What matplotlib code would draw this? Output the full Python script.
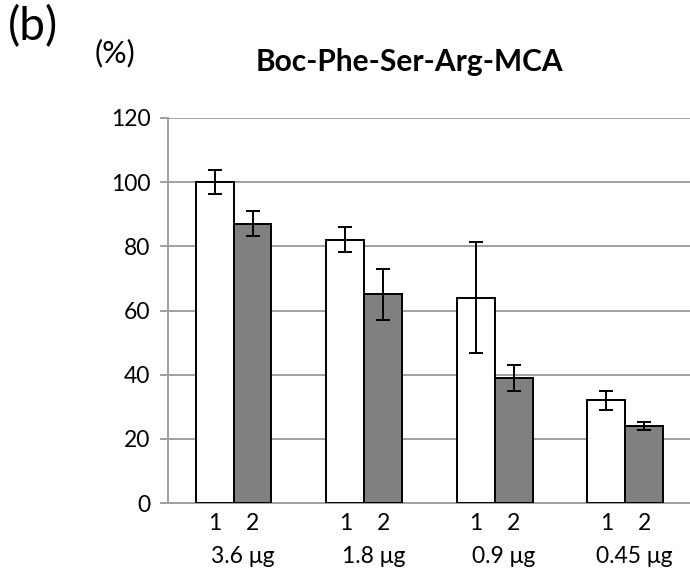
import numpy as np
import matplotlib.pyplot as plt

plt.rcParams['font.family'] = ['Lato', 'DejaVu Sans']

# dados
doses = ['3.6 \u03bcg', '1.8 \u03bcg', '0.9 \u03bcg', '0.45 \u03bcg']
serie1 = [100, 82, 64, 32]
erro1 = [3.8, 3.9, 17.2, 3.0]
serie2 = [87, 65, 39, 24]
erro2 = [3.9, 8.0, 4.0, 1.3]
bar_labels = ['1', '2']

fig = plt.figure(figsize=(6.9, 5.77), dpi=100)
ax = fig.add_axes([0.2439, 0.1282, 0.7561, 0.6673])

x = np.arange(len(doses)) + 0.5
w = 0.29
ekw = dict(ecolor='black', elinewidth=1.4, capsize=5, capthick=1.4)
ax.bar(x - w / 2, serie1, w, color='white', edgecolor='black', linewidth=1.4,
       yerr=erro1, error_kw=ekw, zorder=3)
ax.bar(x + w / 2, serie2, w, color='#808080', edgecolor='black', linewidth=1.4,
       yerr=erro2, error_kw=ekw, zorder=3)

ax.set_xlim(0, 3.995)
ax.set_ylim(0, 120)
ax.set_yticks(np.arange(0, 121, 20))
ax.yaxis.grid(True, color='#a0a0a0', linewidth=1.4, zorder=0)
ax.set_axisbelow(True)
for s in ['top', 'right']:
    ax.spines[s].set_visible(False)
for s in ['left', 'bottom']:
    ax.spines[s].set_color('#a0a0a0')
    ax.spines[s].set_linewidth(1.4)
ax.tick_params(axis='y', length=6, width=1.4, color='#a0a0a0', labelsize=16.5, pad=7)

# rótulos 1 / 2 sob as barras e doses abaixo
ax.set_xticks(np.concatenate([x - w / 2, x + w / 2]))
ax.set_xticklabels(bar_labels[:1] * len(doses) + bar_labels[1:] * len(doses))
ax.tick_params(axis='x', length=0, labelsize=16.5, pad=7)
for xi, d in zip(x, doses):
    ax.text(xi + 0.07, -0.14, d, transform=ax.get_xaxis_transform(),
            ha='center', va='center', fontsize=16.5)

fig.text(409 / 690, 1 - 62 / 577, 'Boc-Phe-Ser-Arg-MCA', ha='center', va='center',
         fontsize=21.5, fontweight='bold')
fig.text(8 / 690, 1 - 27 / 577, '(b)', ha='left', va='center', fontsize=33)
fig.text(95 / 690, 1 - 53 / 577, '(%)', ha='left', va='center', fontsize=22)

fig.savefig('out.png', dpi=100)
